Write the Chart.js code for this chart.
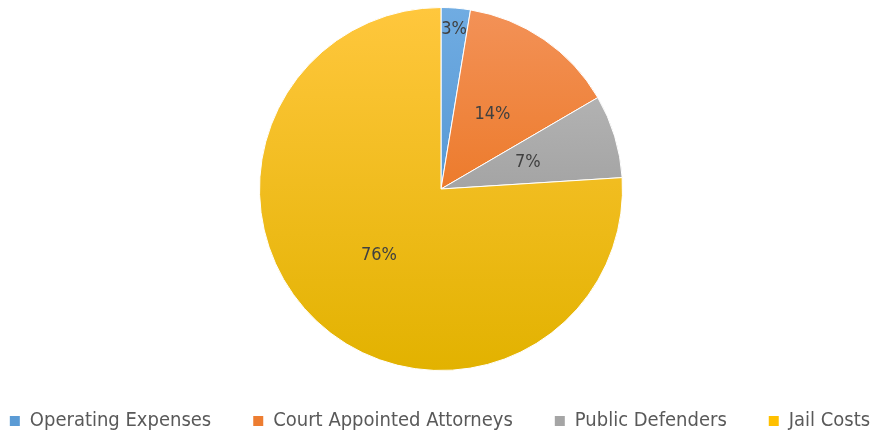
<!DOCTYPE html>
<html>
<head>
<meta charset="utf-8">
<script src="https://cdn.jsdelivr.net/npm/chart.js@4/dist/chart.umd.min.js"></script>
<style>
  html, body { margin: 0; padding: 0; background: #fff; }
  #wrap { width: 880px; height: 432px; }
</style>
</head>
<body>
<div id="wrap"><canvas id="pie"></canvas></div>
<script>
// data
var categories = ["Operating Expenses", "Court Appointed Attorneys", "Public Defenders", "Jail Costs"];
var values = [2.6, 14.0, 7.4, 76.0];

// colours (flat for the legend, light/dark for the slice gradient)
var solidColors = ["#5B9BD5", "#ED7D31", "#A5A5A5", "#FFC000"];
var lightColors = ["#70ACE2", "#F39258", "#C0C0C0", "#FFC73D"];
var darkColors  = ["#3F86C8", "#E66400", "#888888", "#E2B200"];
var labelRadius = [0.885, 0.5, 0.5, 0.5]; // where each % sits, fraction of radius

var fontFam = "'DejaVu Sans Condensed', 'DejaVu Sans', sans-serif";

function sliceFill(ctx){
	var i = ctx.dataIndex;
	var area = ctx.chart.chartArea;
	if(!area) return solidColors[i];
	var g = ctx.chart.ctx.createLinearGradient(0, area.top, 0, area.bottom);
	g.addColorStop(0, lightColors[i]);
	g.addColorStop(1, darkColors[i]);
	return g;
}

// percent labels inside the slices
var pctLabels = {
	id: 'pctLabels',
	afterDatasetsDraw: function(chart){
		var c = chart.ctx;
		var meta = chart.getDatasetMeta(0);
		var total = 0;
		for(var k=0;k<values.length;k++) total += values[k];
		c.save();
		c.font = "18px " + fontFam;
		c.fillStyle = "#404040";
		c.textAlign = "center";
		c.textBaseline = "middle";
		meta.data.forEach(function(arc, i){
			var p = arc.getProps(['x','y','startAngle','endAngle','outerRadius'], true);
			var mid = (p.startAngle + p.endAngle) / 2;
			var r = p.outerRadius * labelRadius[i];
			c.fillText(Math.round(values[i] / total * 100) + "%", p.x + Math.cos(mid) * r, p.y + Math.sin(mid) * r);
		});
		c.restore();
	}
};

// keep the legend on one short row so the pie stays big
var legendFit = {
	id: 'legendFit',
	beforeInit: function(chart){
		var fit = chart.legend.fit;
		chart.legend.fit = function(){
			this.maxWidth = 1000;
			fit.bind(chart.legend)();
			this.width = chart.width;
			this.height = 61;
		};
	},
	afterLayout: function(chart){
		var lg = chart.legend;
		lg.left = -60;
		lg.right = chart.width + 60;
		lg.width = lg.right - lg.left;
		lg.top = 369;
		lg.bottom = chart.height;
	}
};

var chart = new Chart(document.getElementById('pie').getContext('2d'), {
	type: 'pie',
	data: {
		labels: categories,
		datasets: [{
			data: values,
			backgroundColor: sliceFill,
			borderColor: '#ffffff',
			borderWidth: 1
		}]
	},
	options: {
		responsive: true,
		maintainAspectRatio: false,
		animation: false,
		events: [],
		layout: { padding: { top: 7, left: 2 } },
		plugins: {
			tooltip: { enabled: false },
			legend: {
				position: 'bottom',
				labels: {
					boxWidth: 10,
					boxHeight: 10,
					padding: 42,
					color: '#595959',
					font: { family: fontFam, size: 20 },
					generateLabels: function(ch){
						var items = Chart.overrides.pie.plugins.legend.labels.generateLabels(ch);
						items.forEach(function(it, i){
							it.fillStyle = solidColors[i];
							it.strokeStyle = solidColors[i];
							it.lineWidth = 0;
						});
						return items;
					}
				}
			}
		}
	},
	plugins: [pctLabels, legendFit]
});
</script>
</body>
</html>
